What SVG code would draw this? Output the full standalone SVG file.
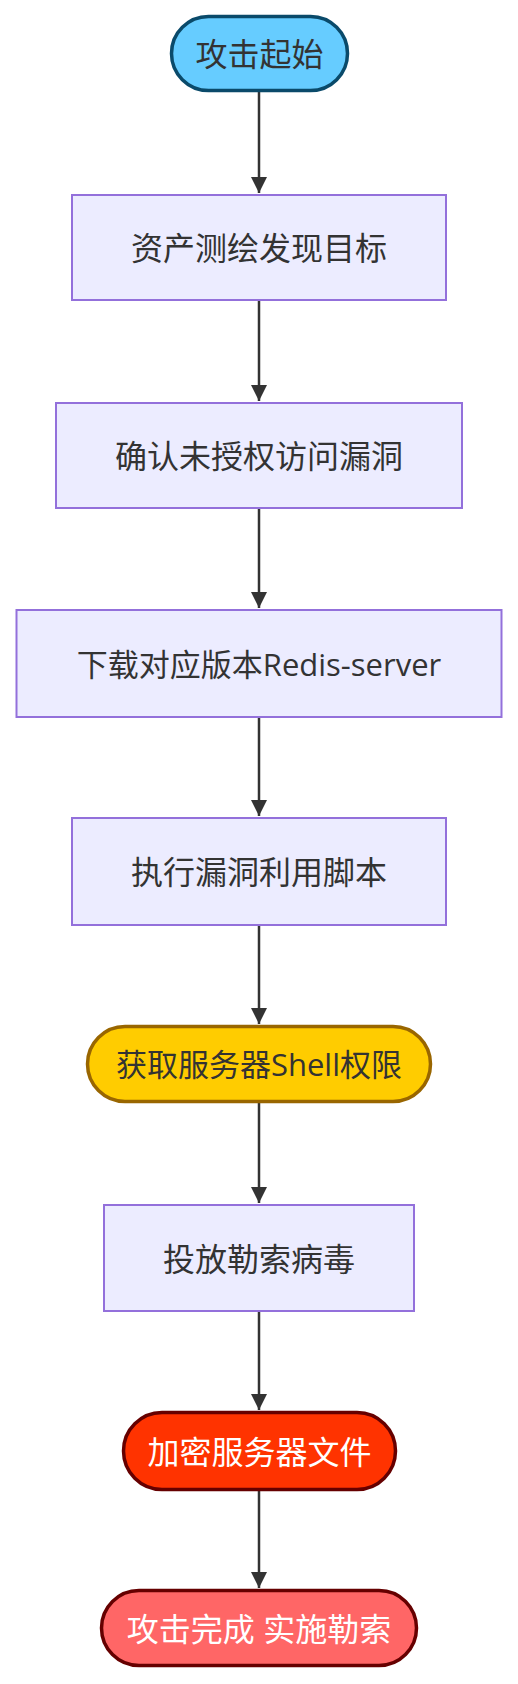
<svg xmlns="http://www.w3.org/2000/svg" width="518" height="1684" viewBox="0 0 518 1684">
<style>
text{font-family:"Open Sans","Noto Sans CJK SC",sans-serif;font-size:32px;text-anchor:middle;dominant-baseline:central;fill:#333}
.mix{font-size:31px}
.box{fill:#ECECFF;stroke:#9370DB;stroke-width:2}
.edge{stroke:#333;stroke-width:2.5;fill:none}
.w{fill:#fff}
</style>
<defs>
<marker id="arr" markerUnits="userSpaceOnUse" viewBox="0 0 16 16" markerWidth="16" markerHeight="16" refX="16" refY="8" orient="auto">
<path d="M0,0 L16,8 L0,16 z" fill="#333"/>
</marker>
</defs>
<rect width="518" height="1684" fill="#fff"/>
<g id="edges">
<line class="edge" x1="259" y1="92" x2="259" y2="193" marker-end="url(#arr)"/>
<line class="edge" x1="259" y1="301" x2="259" y2="401" marker-end="url(#arr)"/>
<line class="edge" x1="259" y1="509" x2="259" y2="608" marker-end="url(#arr)"/>
<line class="edge" x1="259" y1="718" x2="259" y2="816" marker-end="url(#arr)"/>
<line class="edge" x1="259" y1="926" x2="259" y2="1024" marker-end="url(#arr)"/>
<line class="edge" x1="259" y1="1103" x2="259" y2="1203" marker-end="url(#arr)"/>
<line class="edge" x1="259" y1="1312" x2="259" y2="1410" marker-end="url(#arr)"/>
<line class="edge" x1="259" y1="1491" x2="259" y2="1588" marker-end="url(#arr)"/>
</g>
<g id="start">
<rect x="171.5" y="16.5" width="176" height="74" rx="37" fill="#66CCFF" stroke="#0A4A6A" stroke-width="3.5"/>
<text x="259.5" y="53.5">攻击起始</text>
</g>
<g id="n1">
<rect class="box" x="72" y="195" width="374" height="105"/>
<text x="259" y="247.5">资产测绘发现目标</text>
</g>
<g id="n2">
<rect class="box" x="56" y="403" width="406" height="105"/>
<text x="259" y="455.5">确认未授权访问漏洞</text>
</g>
<g id="n3">
<rect class="box" x="16.5" y="610" width="485" height="107"/>
<text class="mix" x="259" y="663.5">下载对应版本Redis-server</text>
</g>
<g id="n4">
<rect class="box" x="72" y="818" width="374" height="107"/>
<text x="259" y="871.5">执行漏洞利用脚本</text>
</g>
<g id="shell">
<rect x="87.5" y="1026.5" width="343" height="75" rx="37.5" fill="#FFCC00" stroke="#996600" stroke-width="3.5"/>
<text class="mix" x="259" y="1064">获取服务器Shell权限</text>
</g>
<g id="n5">
<rect class="box" x="104" y="1205" width="310" height="106"/>
<text x="259" y="1258">投放勒索病毒</text>
</g>
<g id="encrypt">
<rect x="123.5" y="1412.5" width="272" height="77" rx="38.5" fill="#FF3300" stroke="#660000" stroke-width="3.5"/>
<text class="w" x="259.5" y="1451">加密服务器文件</text>
</g>
<g id="final">
<rect x="101.5" y="1590.5" width="315" height="75" rx="37.5" fill="#FF6666" stroke="#660000" stroke-width="3.5"/>
<text class="w" x="259" y="1628">攻击完成 实施勒索</text>
</g>
</svg>
